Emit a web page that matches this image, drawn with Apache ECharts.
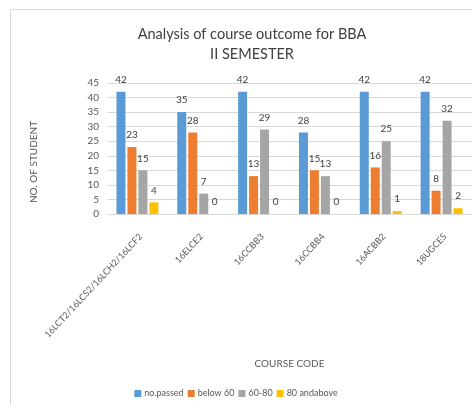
<!DOCTYPE html>
<html>
<head>
<meta charset="utf-8">
<script src="https://cdn.jsdelivr.net/npm/echarts@6/dist/echarts.min.js"></script>
<style>
  html, body { margin: 0; padding: 0; background: #fff; }
  #main { width: 472px; height: 405px; }
</style>
</head>
<body>
<div id="main"></div>
<script>
// data
const courses = ['16LCT2/16LCS2/16LCH2/16LCF2', '16ELCE2', '16CCBB3', '16CCBB4', '16ACBB2', '18UGCES'];
const seriesNames = ['no.passed', 'below 60', '60-80', '80 andabove'];
const noPassed = [42, 35, 42, 28, 42, 42];
const below60 = [23, 28, 13, 15, 16, 8];
const s60to80 = [15, 7, 29, 13, 25, 32];
const above80 = [4, 0, 0, 0, 1, 2];
const colors = ['#5B9BD5', '#ED7D31', '#A5A5A5', '#FFC000'];

const myChart = echarts.init(document.getElementById('main'));
const font = 'Lato';

const makeSeries = (name, data, color) => ({
  name: name,
  type: 'bar',
  barWidth: 9,
  barGap: '22%',
  itemStyle: { color: color },
  label: {
    show: true,
    position: 'top',
    distance: 7,
    color: '#404040',
    fontSize: 10,
    fontFamily: font
  },
  data: data
});

const option = {
  animation: false,
  textStyle: { fontFamily: font },
  title: {
    text: 'Analysis of course outcome for BBA\nII SEMESTER',
    left: 247,
    top: 19,
    textAlign: 'center',
    textStyle: { fontSize: 14.5, fontWeight: 'normal', color: '#404040', lineHeight: 20, fontFamily: font }
  },
  legend: {
    data: seriesNames,
    bottom: 2,
    left: 'center',
    icon: 'rect',
    itemWidth: 7,
    itemHeight: 7,
    itemGap: 4,
    textStyle: { fontSize: 9, color: '#595959', fontFamily: font, padding: [0, 0, 0, -2] }
  },
  grid: { left: 107, right: 0, top: 83, bottom: 191 },
  graphic: [
    {
      type: 'polyline',
      shape: { points: [[10.5, 405], [10.5, 9.5], [472, 9.5]] },
      style: { stroke: '#d9d9d9', fill: null, lineWidth: 1 }
    },
    {
      type: 'text',
      x: 34,
      y: 162,
      rotation: Math.PI / 2,
      style: {
        text: 'NO. OF STUDENT',
        fill: '#595959',
        font: '10px ' + font,
        textAlign: 'center',
        textVerticalAlign: 'middle'
      }
    }
  ],
  xAxis: {
    type: 'category',
    data: courses,
    name: 'COURSE CODE',
    nameLocation: 'middle',
    nameGap: 145,
    nameTextStyle: { color: '#595959', fontSize: 10, fontFamily: font },
    axisTick: { show: false },
    axisLine: { lineStyle: { color: '#d9d9d9' } },
    axisLabel: {
      rotate: 47,
      interval: 0,
      margin: 18,
      verticalAlign: 'top',
      color: '#595959',
      fontSize: 9,
      fontFamily: font
    }
  },
  yAxis: {
    type: 'value',
    min: 0,
    max: 45,
    interval: 5,
    axisLine: { show: false },
    axisTick: { show: false },
    splitLine: { lineStyle: { color: '#d9d9d9' } },
    axisLabel: { color: '#595959', fontSize: 10, margin: 8, fontFamily: font }
  },
  series: [
    makeSeries(seriesNames[0], noPassed, colors[0]),
    makeSeries(seriesNames[1], below60, colors[1]),
    makeSeries(seriesNames[2], s60to80, colors[2]),
    makeSeries(seriesNames[3], above80, colors[3])
  ]
};

myChart.setOption(option);
</script>
</body>
</html>
